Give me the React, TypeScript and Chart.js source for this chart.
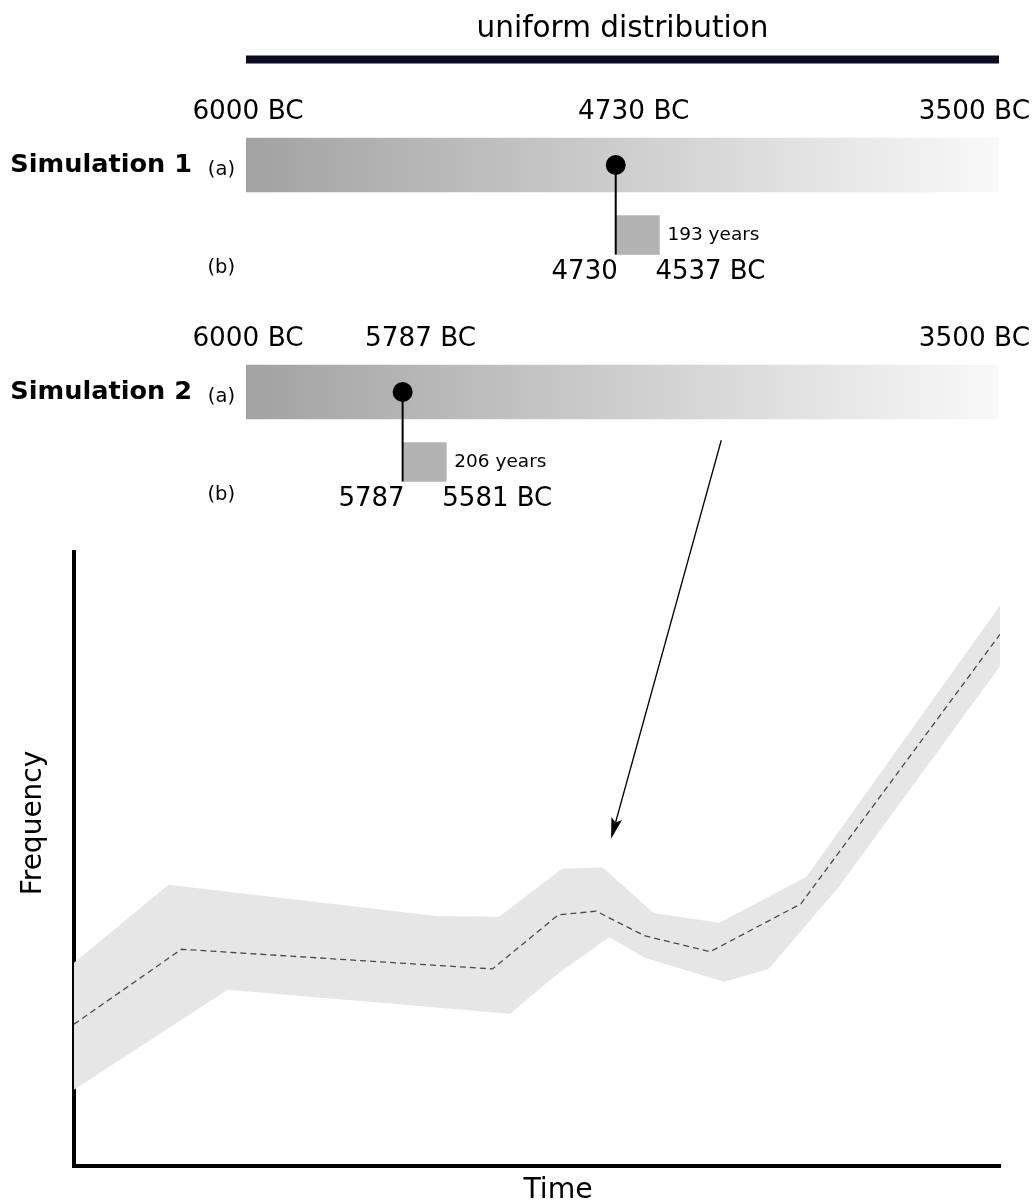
import React, { useEffect, useRef } from 'react';
import { Chart, registerables } from 'chart.js';

Chart.register(...registerables);

// ---------------- data: simulation panel ----------------
const PANEL_TITLE = 'uniform distribution';
const SIMULATIONS = ['Simulation 1', 'Simulation 2'];
const RANGE_LABELS = ['6000 BC', '3500 BC'];
const DRAW_LABELS = ['4730 BC', '5787 BC'];
// position of each random draw along the uniform bar, as drawn (% of the bar)
const DRAW_POSITION = [49.1, 20.8];
const SPAN_YEARS = [193, 206];
// drawn width of each duration box (% of the bar)
const SPAN_WIDTH = [5.8, 5.8];
const SPAN_START_LABELS = ['4730', '5787'];
const SPAN_END_LABELS = ['4537 BC', '5581 BC'];
const ROW_LABELS = ['(a)', '(b)'];

// ---------------- data: frequency chart ----------------
const X_TITLE = 'Time';
const Y_TITLE = 'Frequency';
const MEAN_X = [0, 11.6, 45.2, 52.3, 56.4, 61.6, 68.7, 78.5, 100];
const MEAN_Y = [23.1, 35.3, 32.1, 40.9, 41.5, 37.5, 34.9, 42.7, 86.6];
const UPPER_X = [0, 10.2, 39.1, 45.9, 52.7, 57.1, 62.6, 69.7, 79.1, 100];
const UPPER_Y = [33.1, 45.8, 40.7, 40.6, 48.4, 48.6, 41.2, 39.6, 47.1, 91.3];
const LOWER_X = [0, 16.6, 47.1, 51.9, 57.8, 61.6, 70.2, 75.0, 82.6, 100];
const LOWER_Y = [12.4, 28.7, 24.8, 30.9, 37.3, 33.9, 30.0, 32.1, 45.5, 81.4];
const ARROW_X = [69.9, 58.0];
const ARROW_Y = [118.2, 53.3];

// ---------------- layout ----------------
const W = 1033;
const PAGE_H = 1202;
const TOP_H = 530;
const BOT_TOP = 420;
const BOT_H = 800;
const FONT = '"DejaVu Sans", Verdana, sans-serif';
const L = {
  left: 246,
  right: 34,
  titleBaseline: 37,
  ruleY: 59.5,
  rows: [165, 392],
  barH: 54,
  tickDy: -53,
  boxDy: 70,
  boxH: 39,
  aDy: 5,
  bDy: 103,
  subDy: 107,
};

const topTextPlugin = {
  id: 'topText',
  afterDatasetsDraw(chart: any) {
    const { ctx, chartArea } = chart;
    const xs = chart.scales.x;
    const ys = chart.scales.y;
    const px = (v: number) => xs.getPixelForValue(v);
    const py = (v: number) => ys.getPixelForValue(v);
    ctx.save();
    ctx.fillStyle = '#000';
    ctx.textBaseline = 'alphabetic';
    ctx.textAlign = 'center';
    ctx.font = `29.5px ${FONT}`;
    ctx.fillText(PANEL_TITLE, (chartArea.left + chartArea.right) / 2, py(L.titleBaseline));
    ctx.textBaseline = 'middle';
    SIMULATIONS.forEach((name, i) => {
      const row = L.rows[i];
      const pos = DRAW_POSITION[i];
      const end = pos + SPAN_WIDTH[i];
      // range labels
      ctx.font = `26.3px ${FONT}`;
      ctx.textAlign = 'center';
      ctx.fillText(RANGE_LABELS[0], px(0) + 2, py(row + L.tickDy));
      ctx.fillText(DRAW_LABELS[i], px(pos) + 18, py(row + L.tickDy));
      ctx.textAlign = 'right';
      ctx.fillText(RANGE_LABELS[1], chart.width - 3, py(row + L.tickDy));
      // simulation name
      ctx.font = `bold 25.6px ${FONT}`;
      ctx.textAlign = 'right';
      ctx.fillText(name, chartArea.left - 54, py(row));
      ctx.font = `19.5px ${FONT}`;
      ctx.fillText(ROW_LABELS[0], chartArea.left - 11, py(row + L.aDy));
      ctx.fillText(ROW_LABELS[1], chartArea.left - 11, py(row + L.bDy));
      // duration label
      ctx.font = `18.5px ${FONT}`;
      ctx.textAlign = 'left';
      ctx.fillText(`${SPAN_YEARS[i]} years`, px(end) + 8, py(row + L.boxDy));
      // start / end labels
      ctx.font = `26px ${FONT}`;
      ctx.textAlign = 'right';
      ctx.fillText(SPAN_START_LABELS[i], px(pos) + 2, py(row + L.subDy));
      ctx.textAlign = 'left';
      ctx.fillText(SPAN_END_LABELS[i], px(end) - 4, py(row + L.subDy));
    });
    ctx.restore();
  },
};

const bottomPlugin = {
  id: 'bottomDeco',
  afterDraw(chart: any) {
    const { ctx, chartArea } = chart;
    const xs = chart.scales.x;
    const ys = chart.scales.y;
    // arrow
    const x0 = xs.getPixelForValue(ARROW_X[0]);
    const y0 = ys.getPixelForValue(ARROW_Y[0]);
    const x1 = xs.getPixelForValue(ARROW_X[1]);
    const y1 = ys.getPixelForValue(ARROW_Y[1]);
    const ang = Math.atan2(y1 - y0, x1 - x0);
    const headLen = 21;
    const headHalf = 5.5;
    ctx.save();
    ctx.strokeStyle = '#000';
    ctx.fillStyle = '#000';
    ctx.lineWidth = 1.3;
    ctx.beginPath();
    ctx.moveTo(x0, y0);
    ctx.lineTo(x1 - Math.cos(ang) * headLen * 0.8, y1 - Math.sin(ang) * headLen * 0.8);
    ctx.stroke();
    const bx = x1 - Math.cos(ang) * headLen;
    const by = y1 - Math.sin(ang) * headLen;
    const nx = -Math.sin(ang);
    const ny = Math.cos(ang);
    ctx.beginPath();
    ctx.moveTo(x1, y1);
    ctx.lineTo(bx + nx * headHalf, by + ny * headHalf);
    ctx.lineTo(x1 - Math.cos(ang) * headLen * 0.8, y1 - Math.sin(ang) * headLen * 0.8);
    ctx.lineTo(bx - nx * headHalf, by - ny * headHalf);
    ctx.closePath();
    ctx.fill();
    // axis titles
    ctx.font = `28.3px ${FONT}`;
    ctx.textAlign = 'center';
    ctx.textBaseline = 'middle';
    ctx.fillText(X_TITLE, (chartArea.left + chartArea.right) / 2 + 21, chartArea.bottom + 24.5);
    ctx.font = `28px ${FONT}`;
    ctx.translate(chartArea.left - 40, (chartArea.top + chartArea.bottom) / 2 - 36);
    ctx.rotate(-Math.PI / 2);
    ctx.fillText(Y_TITLE, 0, 0);
    ctx.restore();
  },
};

export default function App() {
  const topRef = useRef<HTMLCanvasElement | null>(null);
  const botRef = useRef<HTMLCanvasElement | null>(null);

  useEffect(() => {
    Chart.defaults.font.family = FONT;
    const gradientFill = (c: any) => {
      const { chart } = c;
      const area = chart.chartArea;
      if (!area) return '#cccccc';
      const g = chart.ctx.createLinearGradient(area.left, 0, area.right, 0);
      g.addColorStop(0, '#a2a2a2');
      g.addColorStop(1, '#f9f9f9');
      return g;
    };

    const top = new Chart(topRef.current as HTMLCanvasElement, {
      type: 'scatter',
      data: {
        datasets: [
          {
            type: 'scatter',
            label: 'draw',
            data: DRAW_POSITION.map((p, i) => ({ x: p, y: L.rows[i] })),
            pointRadius: 10,
            pointBackgroundColor: '#000',
            pointBorderWidth: 0,
            order: 0,
          },
          ...DRAW_POSITION.map((p, i) => ({
            type: 'scatter',
            label: 'stem',
            data: [
              { x: p, y: L.rows[i] },
              { x: p, y: L.rows[i] + L.boxDy + L.boxH / 2 },
            ],
            showLine: true,
            borderColor: '#000',
            borderWidth: 2,
            pointRadius: 0,
            order: 1,
          })),
          {
            type: 'bar',
            label: 'duration',
            indexAxis: 'y',
            grouped: false,
            barThickness: L.boxH,
            data: DRAW_POSITION.map((p, i) => ({ y: L.rows[i] + L.boxDy, x: [p, p + SPAN_WIDTH[i]] })),
            backgroundColor: '#b3b3b3',
            borderWidth: 0,
            order: 2,
          },
          {
            type: 'bar',
            label: 'range',
            indexAxis: 'y',
            grouped: false,
            barThickness: L.barH,
            data: L.rows.map((r) => ({ y: r, x: [0, 100] })),
            backgroundColor: gradientFill,
            borderWidth: 0,
            order: 3,
          },
          {
            type: 'scatter',
            label: 'uniform',
            data: [
              { x: 0, y: L.ruleY },
              { x: 100, y: L.ruleY },
            ],
            showLine: true,
            borderColor: '#0b0b22',
            borderWidth: 8,
            borderCapStyle: 'butt',
            pointRadius: 0,
            order: 4,
          },
        ] as any,
      },
      options: {
        responsive: false,
        animation: false,
        devicePixelRatio: 1,
        events: [],
        layout: { autoPadding: false, padding: { left: L.left, right: L.right, top: 0, bottom: 0 } },
        scales: {
          x: { type: 'linear', min: 0, max: 100, display: false, offset: false },
          y: { type: 'linear', min: 0, max: TOP_H, reverse: true, display: false, offset: false },
        },
        plugins: { legend: { display: false }, tooltip: { enabled: false } },
      } as any,
      plugins: [topTextPlugin],
    });

    const bandData = [
      ...UPPER_X.map((x, i) => ({ x, y: UPPER_Y[i] })),
      ...LOWER_X.map((x, i) => ({ x, y: LOWER_Y[i] })).reverse(),
    ];

    const bottom = new Chart(botRef.current as HTMLCanvasElement, {
      type: 'scatter',
      data: {
        datasets: [
          {
            label: 'mean',
            data: MEAN_X.map((x, i) => ({ x, y: MEAN_Y[i] })),
            showLine: true,
            borderColor: '#4a4a4a',
            borderWidth: 1.3,
            borderDash: [6, 4],
            pointRadius: 0,
            order: 0,
          },
          {
            label: 'range',
            data: bandData,
            showLine: true,
            fill: 'shape',
            backgroundColor: '#e6e6e6',
            borderColor: 'rgba(0,0,0,0)',
            borderWidth: 0,
            pointRadius: 0,
            order: 1,
          },
        ] as any,
      },
      options: {
        responsive: false,
        animation: false,
        devicePixelRatio: 1,
        events: [],
        layout: { autoPadding: false, padding: { left: 74, right: 33, top: 132, bottom: 54 } },
        scales: {
          x: {
            type: 'linear',
            min: 0,
            max: 100,
            z: 1,
            ticks: { display: false },
            grid: { display: false, drawTicks: false },
            border: { display: true, color: '#000', width: 4 },
          },
          y: {
            type: 'linear',
            min: 0,
            max: 100,
            z: 1,
            ticks: { display: false },
            grid: { display: false, drawTicks: false },
            border: { display: true, color: '#000', width: 4 },
          },
        },
        plugins: { legend: { display: false }, tooltip: { enabled: false } },
      } as any,
      plugins: [bottomPlugin],
    });

    return () => {
      top.destroy();
      bottom.destroy();
    };
  }, []);

  return (
    <div
      style={{
        position: 'fixed',
        left: 0,
        top: 0,
        width: W,
        height: PAGE_H,
        overflow: 'hidden',
        background: '#fff',
      }}
    >
      <canvas ref={topRef} width={W} height={TOP_H} style={{ position: 'absolute', left: 0, top: 0 }} />
      <canvas ref={botRef} width={W} height={BOT_H} style={{ position: 'absolute', left: 0, top: BOT_TOP }} />
    </div>
  );
}
